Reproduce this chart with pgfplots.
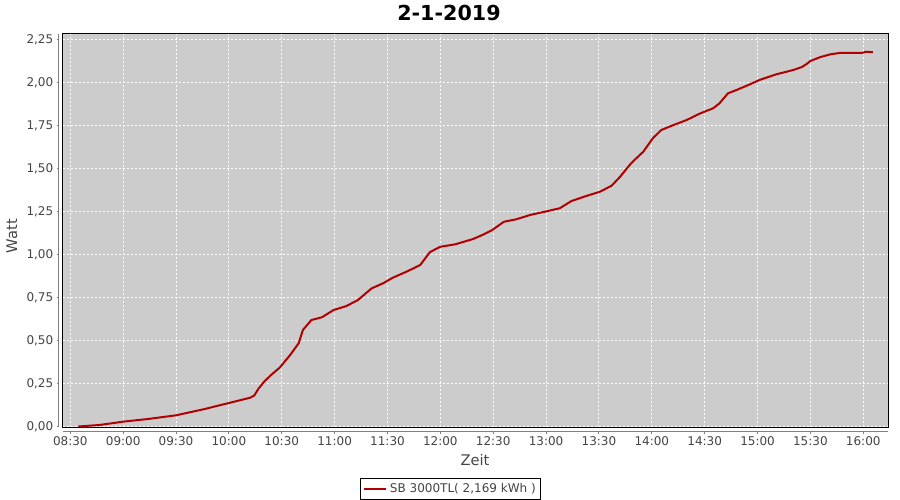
\documentclass[border=0pt]{standalone}
\usepackage{pgfplots}
\pgfplotsset{compat=1.18}
\usepackage{fontspec}
\setmainfont{DejaVu Sans}

\definecolor{plotbg}{RGB}{204,204,204}
\definecolor{series}{RGB}{178,0,0}
\definecolor{axisgray}{RGB}{128,128,128}
\definecolor{labelgray}{RGB}{68,68,68}

\begin{document}
\begin{tikzpicture}
\useasboundingbox (0,0) rectangle (675pt,375pt);
\begin{axis}[
    at={(47.25pt,54.75pt)}, anchor=south west,
    scale only axis,
    width=618.75pt, height=294.75pt,
    xmin=8.431, xmax=16.234,
    ymin=-0.003, ymax=2.282,
    axis background/.style={fill=plotbg},
    axis line style={black, line width=0.75pt},
    xtick={8.5,9,9.5,10,10.5,11,11.5,12,12.5,13,13.5,14,14.5,15,15.5,16},
    xticklabels={08:30,09:00,09:30,10:00,10:30,11:00,11:30,12:00,12:30,13:00,13:30,14:00,14:30,15:00,15:30,16:00},
    ytick={0,0.25,0.5,0.75,1,1.25,1.5,1.75,2,2.25},
    yticklabel={\pgfmathprintnumber[fixed, fixed zerofill, precision=2, use comma]{\tick}},
    /pgf/number format/assume math mode=true,
    tick label style={font=\fontsize{9}{10}\selectfont, text=labelgray},
    xticklabel style={yshift=-2pt},
    yticklabel style={xshift=-2pt},
    tick align=outside,
    major tick length=1.8pt,
    tick style={axisgray, line width=0.75pt},
    xtick style={yshift=-3.5pt},
    ytick style={xshift=-3pt},
    xtick pos=bottom, ytick pos=left,
    grid=major,
    major grid style={white, line width=0.75pt, dash pattern=on 1.5pt off 1.5pt},
    legend style={at={(0.4697,-0.13)}, anchor=north, draw=black, line width=0.75pt,
        font=\fontsize{9}{10}\selectfont, text=labelgray, inner sep=1.5pt,
        legend cell align=left},
    legend image post style={line width=1.5pt},
    clip=false,
]
\addplot[series, line width=1.5pt, line join=round] coordinates {
(8.576,0.000)(8.78,0.009)(9.00,0.028)(9.24,0.044)(9.50,0.065)
(9.76,0.100)(9.99,0.135)(10.20,0.167)(10.24,0.180)(10.28,0.220)
(10.34,0.265)(10.40,0.300)(10.48,0.342)(10.58,0.416)(10.66,0.484)
(10.70,0.561)(10.78,0.619)(10.88,0.635)(10.99,0.677)(11.11,0.700)
(11.22,0.735)(11.35,0.803)(11.46,0.833)(11.55,0.865)(11.68,0.900)
(11.81,0.939)(11.90,1.013)(11.97,1.036)(12.00,1.045)(12.14,1.059)
(12.31,1.090)(12.41,1.117)(12.49,1.142)(12.60,1.190)(12.72,1.205)
(12.85,1.230)(12.99,1.249)(13.13,1.269)(13.24,1.311)(13.38,1.340)
(13.51,1.365)(13.62,1.400)(13.70,1.452)(13.79,1.520)(13.82,1.540)
(13.92,1.598)(14.01,1.676)(14.09,1.724)(14.19,1.749)(14.33,1.782)
(14.46,1.821)(14.58,1.850)(14.64,1.879)(14.72,1.937)(14.80,1.956)
(14.93,1.990)(15.02,2.015)(15.18,2.048)(15.34,2.073)(15.42,2.090)
(15.46,2.106)(15.50,2.125)(15.59,2.147)(15.69,2.164)(15.78,2.172)
(16.00,2.173)(16.02,2.179)(16.09,2.176)
};
\addlegendentry{SB 3000TL( 2,169 kWh )}
\draw[axisgray, line width=0.75pt] ([xshift=-3pt]rel axis cs:0,0) -- ([xshift=-3pt]rel axis cs:0,1);
\draw[axisgray, line width=0.75pt] ([yshift=-3.5pt]rel axis cs:0,0) -- ([yshift=-3.5pt]rel axis cs:1,0);
\end{axis}
\node[font=\bfseries\fontsize{15.5}{17}\selectfont] at (336.75pt,365.25pt) {2-1-2019};
\node[font=\fontsize{11}{12}\selectfont, text=labelgray] at (356.25pt,30pt) {Zeit};
\node[font=\fontsize{11}{12}\selectfont, text=labelgray, rotate=90] at (9pt,198pt) {Watt};
\end{tikzpicture}
\end{document}
